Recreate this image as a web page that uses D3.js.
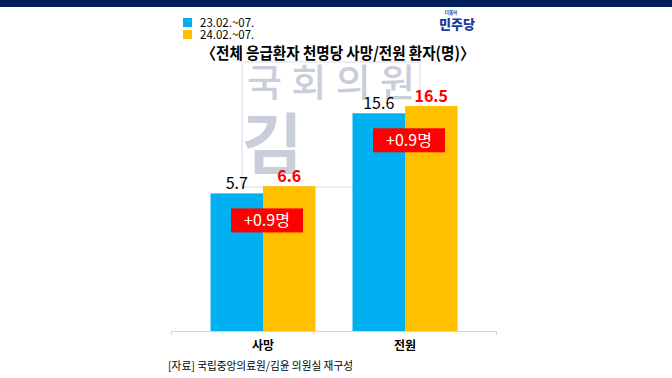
<!DOCTYPE html>
<html><head><meta charset="utf-8">
<script src="https://cdn.jsdelivr.net/npm/d3@7"></script>
<style>
html,body{margin:0;padding:0;background:#fff;}
svg{display:block;font-family:"Noto Sans CJK KR","Noto Sans",sans-serif;}
</style></head>
<body><svg id="c" width="672" height="378"></svg>
<script>
const categories = ["사망", "전원"];
const seriesNames = ["23.02.~07.", "24.02.~07."];
const values2023 = [5.7, 15.6];
const values2024 = [6.6, 16.5];
const diffLabels = ["+0.9명", "+0.9명"];
const title = "〈전체 응급환자 천명당 사망/전원 환자(명)〉";
const source = "[자료] 국립중앙의료원/김윤 의원실 재구성";
const colors = ["#00b0f0", "#ffc000"];

const svg = d3.select("#c");

// top navy band
svg.append("rect").attr("x",0).attr("y",0).attr("width",672).attr("height",7).attr("fill","#001e5a");

// watermark
const wm = svg.append("g");
wm.append("rect").attr("x",242).attr("y",62).attr("width",178).attr("height",125)
  .attr("fill","none").attr("stroke","#e3e8f1").attr("stroke-width",1.5);
wm.append("text").attr("x",331).attr("y",96).attr("text-anchor","middle")
  .attr("font-size",38).attr("font-weight",500).attr("fill","#c9ceda")
  .attr("textLength",168).attr("lengthAdjust","spacing").text("국회의원");
wm.append("text").attr("x",272).attr("y",168).attr("text-anchor","middle")
  .attr("font-size",66).attr("font-weight",700).attr("fill","#c9ceda").text("김");

// scales
const x = d3.scaleBand().domain(categories).range([192, 476]).paddingInner(0).paddingOuter(0);
const x1 = d3.scaleBand().domain(seriesNames).range([-52.5, 52.5]);
const y = d3.scaleLinear().domain([-11.3, 16.5]).range([331, 106]);

// axis line
const ax = svg.append("g");
const tickXs = categories.map(c => x(c) - 21).concat([496]);
ax.append("line").attr("x1",tickXs[0]).attr("x2",496).attr("y1",331.5).attr("y2",331.5)
  .attr("stroke","#d4d4d4").attr("stroke-width",1);
ax.selectAll("line.t").data(tickXs).join("line").attr("class","t")
  .attr("x1",d=>d+0.5).attr("x2",d=>d+0.5).attr("y1",331).attr("y2",335)
  .attr("stroke","#d4d4d4").attr("stroke-width",1);

const series = [values2023, values2024];
const groups = svg.append("g").selectAll("g").data(categories).join("g")
  .attr("transform", c => `translate(${x(c) + x.bandwidth()/2},0)`);

groups.each(function(c, i){
  const g = d3.select(this);
  series.forEach((vals, si) => {
    const v = vals[i];
    g.append("rect").attr("x", x1(seriesNames[si])).attr("width", x1.bandwidth())
      .attr("y", y(v)).attr("height", y.range()[0] - y(v)).attr("fill", colors[si]);
    g.append("text").attr("x", x1(seriesNames[si]) + x1.bandwidth()/2).attr("y", y(v) - 4)
      .attr("text-anchor","middle")
      .attr("font-size", 16)
      .attr("font-weight", si === 1 ? 700 : 400)
      .attr("fill", si === 1 ? "#ff0000" : "#000")
      .text(v.toFixed(1));
  });
  const top = y(values2023[i]) + 15;
  g.append("rect").attr("x", -32).attr("y", top).attr("width", 72).attr("height", 24).attr("fill","#ff0000");
  g.append("text").attr("x", 4).attr("y", top + 18).attr("text-anchor","middle")
    .attr("font-size", 16).attr("fill","#fff").text(diffLabels[i]);
  g.append("text").attr("x", 0).attr("y", 350).attr("text-anchor","middle")
    .attr("font-size", 12).attr("font-weight", 700).attr("fill","#000").text(c);
});

// legend
const lg = svg.append("g");
seriesNames.forEach((s, i) => {
  lg.append("rect").attr("x",183).attr("y",18 + i*12).attr("width",9).attr("height",9).attr("fill",colors[i]);
  lg.append("text").attr("x",200).attr("y",26.5 + i*12).attr("font-size",11.5).attr("fill","#000").text(s);
});

// title
svg.append("text").attr("x",338).attr("y",59).attr("text-anchor","middle")
  .attr("font-size",16).attr("font-weight",700).attr("fill","#000")
  .attr("textLength",273).attr("lengthAdjust","spacingAndGlyphs").text(title);

// logo
svg.append("text").attr("x",451).attr("y",14).attr("text-anchor","middle")
  .attr("font-size",4.5).attr("font-weight",700).attr("fill","#1f3c9c").text("더불어");
svg.append("text").attr("x",457).attr("y",29).attr("text-anchor","middle")
  .attr("font-size",13).attr("font-weight",900).attr("fill","#1f3c9c").text("민주당");

// source
svg.append("text").attr("x",168).attr("y",370).attr("font-size",11).attr("fill","#000")
  .attr("textLength",185).attr("lengthAdjust","spacingAndGlyphs").text(source);
</script></body></html>
